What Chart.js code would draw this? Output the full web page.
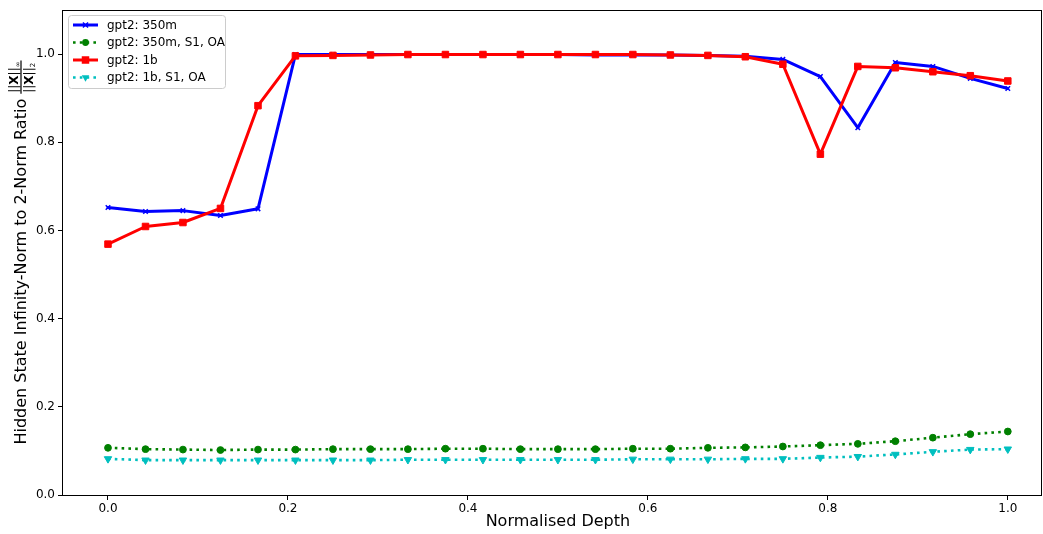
<!DOCTYPE html>
<html><head><meta charset="utf-8">
<script src="https://cdn.jsdelivr.net/npm/chart.js@4/dist/chart.umd.min.js"></script>
<style>html,body{margin:0;padding:0;background:#fff;}canvas{display:block}</style>
</head><body><canvas id="c" width="1043" height="534"></canvas>
<script>
// ---- data ----
const depth = [0.0, 0.0417, 0.0833, 0.125, 0.1667, 0.2083, 0.25, 0.2917, 0.3333, 0.375, 0.4167, 0.4583, 0.5, 0.5417, 0.5833, 0.625, 0.6667, 0.7083, 0.75, 0.7917, 0.8333, 0.875, 0.9167, 0.9583, 1.0];
const gpt2_350m = [0.652, 0.643, 0.645, 0.634, 0.649, 0.999, 0.999, 0.999, 0.999, 0.999, 0.999, 0.999, 0.999, 0.998, 0.998, 0.998, 0.997, 0.995, 0.988, 0.949, 0.833, 0.981, 0.972, 0.945, 0.922];
const gpt2_350m_s1_oa = [0.107, 0.104, 0.103, 0.102, 0.103, 0.103, 0.104, 0.104, 0.104, 0.105, 0.105, 0.104, 0.104, 0.104, 0.105, 0.105, 0.107, 0.108, 0.110, 0.113, 0.116, 0.122, 0.130, 0.138, 0.144];
const gpt2_1b = [0.569, 0.609, 0.618, 0.650, 0.883, 0.996, 0.997, 0.998, 0.999, 0.999, 0.999, 0.999, 0.999, 0.999, 0.999, 0.998, 0.997, 0.994, 0.977, 0.773, 0.972, 0.969, 0.960, 0.951, 0.939];
const gpt2_1b_s1_oa = [0.082, 0.079, 0.079, 0.079, 0.079, 0.079, 0.079, 0.079, 0.080, 0.080, 0.080, 0.080, 0.080, 0.080, 0.081, 0.081, 0.081, 0.082, 0.082, 0.085, 0.087, 0.092, 0.098, 0.103, 0.104];
const seriesLabels = ['gpt2: 350m', 'gpt2: 350m, S1, OA', 'gpt2: 1b', 'gpt2: 1b, S1, OA'];
const xTicks = [0.0, 0.2, 0.4, 0.6, 0.8, 1.0];
const yTicks = [0.0, 0.2, 0.4, 0.6, 0.8, 1.0];
const xTitle = 'Normalised Depth';
const yTitle = 'Hidden State Infinity-Norm to 2-Norm Ratio';

const FONT = '"DejaVu Sans", sans-serif';
const pts = arr => arr.map((v, i) => ({x: depth[i], y: v}));

const styles = [
  {color: '#0000ff', dash: [], width: 3, marker: 'x', r: 3.2},
  {color: '#008000', dash: [2.6, 4.2], width: 2.6, marker: 'o', r: 3.4},
  {color: '#ff0000', dash: [], width: 3, marker: 's', r: 4.6},
  {color: '#00bfbf', dash: [2.6, 4.2], width: 2.6, marker: 'v', r: 4.3},
];
const chartStyle = {x: 'crossRot', o: 'circle', s: 'rect', v: 'triangle'};
const values = [gpt2_350m, gpt2_350m_s1_oa, gpt2_1b, gpt2_1b_s1_oa];

const datasets = values.map((v, i) => {
  const s = styles[i];
  return {
    label: seriesLabels[i],
    data: pts(v),
    borderColor: s.color,
    backgroundColor: s.color,
    borderWidth: s.width,
    borderDash: s.dash,
    borderCapStyle: s.dash.length ? 'butt' : 'round',
    borderJoinStyle: 'round',
    pointStyle: chartStyle[s.marker],
    pointRotation: s.marker === 'v' ? 180 : 0,
    pointRadius: s.r,
    pointBorderWidth: s.marker === 'x' ? 1.5 : 1,
    pointBorderColor: s.color,
    pointBackgroundColor: s.color,
    tension: 0,
    fill: false,
    order: 4 - i,
  };
});

function drawMarker(ctx, m, x, y, r, color) {
  ctx.save();
  ctx.fillStyle = color; ctx.strokeStyle = color; ctx.setLineDash([]);
  ctx.beginPath();
  if (m === 'x') {
    ctx.lineWidth = 1.5;
    ctx.moveTo(x - r * 0.8, y - r * 0.8); ctx.lineTo(x + r * 0.8, y + r * 0.8);
    ctx.moveTo(x + r * 0.8, y - r * 0.8); ctx.lineTo(x - r * 0.8, y + r * 0.8);
    ctx.stroke();
  } else if (m === 'o') {
    ctx.arc(x, y, r, 0, Math.PI * 2); ctx.fill();
  } else if (m === 's') {
    const h = r * Math.SQRT1_2 + 0.5;
    ctx.rect(x - h, y - h, 2 * h, 2 * h); ctx.fill();
  } else if (m === 'v') {
    ctx.moveTo(x, y + r);
    ctx.lineTo(x - r * 0.866, y - r * 0.5);
    ctx.lineTo(x + r * 0.866, y - r * 0.5);
    ctx.closePath(); ctx.fill();
  }
  ctx.restore();
}

const noPad = sc => {
  sc.getPadding = () => ({left: 0, right: 0, top: 0, bottom: 0});
};

const decor = {
  id: 'decor',
  afterDraw(chart) {
    const ctx = chart.ctx, a = chart.chartArea;
    ctx.save();
    // frame
    ctx.strokeStyle = '#000'; ctx.lineWidth = 1; ctx.setLineDash([]);
    ctx.strokeRect(Math.round(a.left) - 0.5, Math.round(a.top) + 0.5, Math.round(a.right) - Math.round(a.left), Math.round(a.bottom) - Math.round(a.top));

    // x title
    ctx.fillStyle = '#000';
    ctx.font = '16px ' + FONT;
    ctx.textAlign = 'center'; ctx.textBaseline = 'middle';
    ctx.fillText(xTitle, chart.scales.x.getPixelForValue(0.5), 522);

    // y title with fraction
    ctx.save();
    ctx.translate(22, (a.top + a.bottom) / 2);
    ctx.rotate(-Math.PI / 2);
    ctx.font = '16px ' + FONT;
    const wMain = ctx.measureText(yTitle + ' ').width;
    const fs = 12, fsSub = 7;
    const bars = '||';
    ctx.font = fs + 'px ' + FONT; const wBar = ctx.measureText(bars).width;
    ctx.font = 'bold ' + fs + 'px ' + FONT; const wX = ctx.measureText('X').width;
    ctx.font = fsSub + 'px ' + FONT; const wInf = ctx.measureText('∞').width; const wTwo = ctx.measureText('2').width;
    const wFrac = wBar * 2 + wX + Math.max(wInf, wTwo) + 2;
    const total = wMain + wFrac;
    let x0 = -total / 2;
    ctx.font = '16px ' + FONT;
    ctx.textAlign = 'left'; ctx.textBaseline = 'middle';
    ctx.fillText(yTitle, x0, 0);
    const fx = x0 + wMain;
    ctx.fillRect(fx, -1.6, wFrac, 1.2);
    const drawPart = (yb, sub) => {
      let cx = fx + 1;
      ctx.textBaseline = 'alphabetic';
      ctx.font = fs + 'px ' + FONT; ctx.fillText(bars, cx, yb); cx += wBar;
      ctx.font = 'bold ' + fs + 'px ' + FONT; ctx.fillText('X', cx, yb); cx += wX;
      ctx.font = fs + 'px ' + FONT; ctx.fillText(bars, cx, yb); cx += wBar;
      ctx.font = fsSub + 'px ' + FONT; ctx.fillText(sub, cx, yb + 2);
    };
    drawPart(-4, '∞');
    drawPart(11, '2');
    ctx.restore();

    // legend
    const lx = 68.5, ly = 15.5, lw = 157, lh = 73;
    ctx.fillStyle = 'rgba(255,255,255,0.8)';
    ctx.strokeStyle = '#cccccc'; ctx.lineWidth = 1;
    ctx.beginPath();
    if (ctx.roundRect) ctx.roundRect(lx, ly, lw, lh, 3); else ctx.rect(lx, ly, lw, lh);
    ctx.fill(); ctx.stroke();
    const rows = [25, 42.5, 60, 77.5];
    ctx.font = '12px ' + FONT; ctx.textAlign = 'left'; ctx.textBaseline = 'middle';
    seriesLabels.forEach((lab, i) => {
      const s = styles[i], y = rows[i];
      ctx.save();
      ctx.strokeStyle = s.color; ctx.lineWidth = s.width; ctx.setLineDash(s.dash);
      ctx.lineCap = 'butt';
      ctx.beginPath(); ctx.moveTo(73, y); ctx.lineTo(98, y); ctx.stroke();
      ctx.restore();
      drawMarker(ctx, s.marker, 85.5, y, s.r, s.color);
      ctx.fillStyle = '#000';
      ctx.fillText(lab, 107, y + 0.5);
    });
    ctx.restore();
  }
};

new Chart(document.getElementById('c'), {
  type: 'line',
  data: {datasets},
  options: {
    responsive: false,
    animation: false,
    devicePixelRatio: 1,
    layout: {autoPadding: false, padding: {top: 10, right: 1, left: 0, bottom: 0}},
    plugins: {legend: {display: false}, tooltip: {enabled: false}},
    scales: {
      x: {
        type: 'linear', min: -0.05, max: 1.038,
        afterBuildTicks: sc => { sc.ticks = xTicks.map(v => ({value: v})); },
        afterFit: sc => { sc.height = 39; noPad(sc); },
        ticks: {color: '#000', font: {family: FONT, size: 12}, padding: 2, maxRotation: 0,
                callback: v => Number(v).toFixed(1)},
        grid: {display: true, drawOnChartArea: false, drawTicks: true, tickLength: 5, color: '#000', lineWidth: 1},
        border: {display: false},
        title: {display: false},
      },
      y: {
        type: 'linear', min: 0, max: 1.1,
        afterBuildTicks: sc => { sc.ticks = yTicks.map(v => ({value: v})); },
        afterFit: sc => { sc.width = 63; noPad(sc); },
        ticks: {color: '#000', font: {family: FONT, size: 12}, padding: 3,
                callback: v => Number(v).toFixed(1)},
        grid: {display: true, drawOnChartArea: false, drawTicks: true, tickLength: 5, color: '#000', lineWidth: 1},
        border: {display: false},
        title: {display: false},
      }
    }
  },
  plugins: [decor]
});
</script>
</body></html>
